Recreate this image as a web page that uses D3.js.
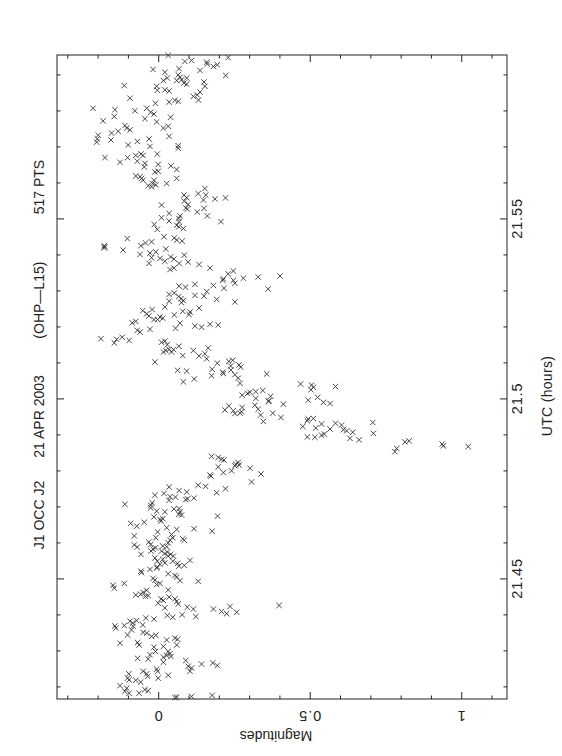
<!DOCTYPE html>
<html><head><meta charset="utf-8">
<script src="https://cdn.jsdelivr.net/npm/d3@7"></script>
<style>
html,body{margin:0;padding:0;background:#fff;}
svg text{font-family:"Liberation Sans",Arial,Helvetica,sans-serif;fill:#222;}
</style></head>
<body><svg id="c" width="562" height="756"></svg>
<script>
// ---- data ----
const titleParts = ["J1 OCC J2", "21 APR 2003", "(OHP\u2014L15)", "517 PTS"];
const titleUtcPos = [21.4676, 21.4950, 21.5273, 21.5587];
const utcTicks = [21.45, 21.5, 21.55];
const utcTickLabels = ["21.45", "21.5", "21.55"];
const magTicks = [0, 0.5, 1];
const magTickLabels = ["0", "0.5", "1"];
const utcLabel = "UTC (hours)";
const magLabel = "Magnitudes";
const utcDomain = [21.4165, 21.5954];
const magDomain = [-0.334, 1.151];
// observations: [UTC hours, magnitude]
const points = [
[21.5953,0.033],[21.5936,0.088],[21.5939,0.110],[21.5934,0.160],[21.5929,0.162],[21.5922,0.182],[21.5927,0.195],[21.5947,0.231],[21.5914,-0.017],[21.5916,0.069],
[21.5906,0.022],[21.5911,0.138],[21.5899,0.066],[21.5892,0.072],[21.5883,0.061],[21.5885,0.077],[21.5890,0.094],[21.5890,0.030],[21.5883,0.017],[21.5897,0.223],
[21.5876,0.085],[21.5873,0.094],[21.5879,0.151],[21.5867,0.154],[21.5869,-0.112],[21.5867,-0.005],[21.5856,-0.003],[21.5857,0.022],[21.5854,0.036],[21.5851,0.138],
[21.5843,0.129],[21.5839,0.116],[21.5829,0.133],[21.5834,-0.093],[21.5823,0.036],[21.5828,0.055],[21.5825,0.066],[21.5820,-0.009],[21.5806,-0.215],[21.5802,-0.143],
[21.5799,-0.077],[21.5806,-0.038],[21.5795,-0.025],[21.5790,-0.014],[21.5783,-0.145],[21.5777,-0.044],[21.5771,-0.182],[21.5768,-0.005],[21.5781,0.041],[21.5758,-0.110],
[21.5751,-0.104],[21.5746,-0.093],[21.5751,0.017],[21.5756,0.033],[21.5737,-0.154],[21.5742,-0.132],[21.5731,-0.198],[21.5721,-0.201],[21.5712,-0.203],[21.5718,-0.156],
[21.5721,-0.030],[21.5728,0.036],[21.5704,-0.099],[21.5714,-0.069],[21.5700,-0.027],[21.5702,0.066],[21.5695,0.066],[21.5669,-0.176],[21.5669,-0.101],[21.5675,-0.074],
[21.5679,-0.057],[21.5675,-0.050],[21.5679,-0.003],
[21.5656,-0.126],[21.5659,-0.069],[21.5653,-0.044],[21.5643,-0.046],[21.5650,0.000],[21.5631,0.000],[21.5629,-0.011],[21.5646,0.042],[21.5636,0.061],[21.5618,-0.074],
[21.5616,-0.060],[21.5611,-0.055],[21.5606,-0.050],[21.5606,-0.014],[21.5597,-0.018],[21.5591,-0.033],[21.5588,-0.022],[21.5593,-0.008],[21.5597,0.028],[21.5611,0.061],
[21.5565,0.085],[21.5558,0.094],[21.5548,0.086],[21.5569,0.132],[21.5583,0.154],[21.5565,0.157],[21.5551,0.149],[21.5554,0.187],[21.5557,0.222],[21.5537,0.011],
[21.5539,0.099],[21.5529,0.091],[21.5526,0.096],[21.5528,0.151],[21.5518,0.129],[21.5507,0.162],[21.5514,0.036],[21.5502,0.011],[21.5493,0.036],[21.5507,0.072],
[21.5500,0.068],[21.5491,0.069],[21.5481,0.061],[21.5477,0.068],[21.5472,0.083],[21.5483,-0.013],[21.5470,-0.003],[21.5491,0.207],[21.5444,-0.102],[21.5449,0.019],
[21.5446,0.053],[21.5440,0.061],[21.5437,0.079],[21.5424,-0.178],[21.5418,-0.178],[21.5421,-0.177],[21.5412,-0.116],[21.5432,-0.042],[21.5435,-0.022],[21.5424,-0.057],
[21.5415,0.025],[21.5400,-0.060],[21.5404,-0.027],[21.5407,-0.008],[21.5391,-0.022],[21.5389,0.006],[21.5381,0.022],[21.5393,0.041],[21.5387,0.052],[21.5398,0.086],
[21.5379,0.099],[21.5375,-0.030],[21.5375,0.069],[21.5372,0.135],
[21.5358,0.039],[21.5362,0.052],[21.5362,0.171],[21.5346,0.231],[21.5354,0.248],[21.5332,0.215],[21.5328,0.213],[21.5328,0.248],[21.5320,0.253],[21.5334,0.281],
[21.5337,0.330],[21.5340,0.402],[21.5306,0.217],[21.5304,0.363],[21.5312,0.069],[21.5309,0.090],[21.5317,0.121],[21.5314,0.182],[21.5297,0.160],[21.5284,0.151],
[21.5286,0.121],[21.5289,0.036],[21.5293,0.053],[21.5283,0.068],[21.5277,0.075],[21.5266,0.077],[21.5272,0.083],[21.5270,0.036],[21.5254,0.022],[21.5275,0.193],
[21.5268,0.253],[21.5244,-0.051],[21.5247,-0.020],[21.5235,-0.038],[21.5229,-0.031],[21.5219,-0.014],[21.5219,-0.002],[21.5226,0.006],[21.5223,0.015],[21.5232,0.053],
[21.5242,0.081],[21.5240,0.105],[21.5233,0.102],[21.5251,0.135],[21.5210,-0.086],[21.5214,-0.074],[21.5189,-0.069],[21.5184,-0.060],[21.5192,-0.027],[21.5209,0.072],
[21.5195,0.057],[21.5201,0.121],[21.5198,0.143],[21.5206,0.171],[21.5204,0.198],[21.5166,-0.189],[21.5164,-0.137],[21.5154,-0.145],[21.5170,-0.119],[21.5161,-0.096],
[21.5156,0.011],[21.5159,0.022],[21.5149,0.030],[21.5129,0.017],[21.5133,0.025],[21.5136,0.036],[21.5129,0.044],[21.5136,0.050],[21.5145,0.068],[21.5119,0.081],
[21.5133,0.116],[21.5118,0.135],[21.5124,0.154],[21.5110,0.160],[21.5140,0.165],[21.5101,-0.011],[21.5098,0.195],[21.5103,0.233],[21.5106,0.246],[21.5090,0.239],
[21.5093,0.267],[21.5087,0.272],[21.5078,0.064],[21.5076,0.094],[21.5081,0.178],[21.5073,0.213],
[21.5046,0.083],[21.5054,0.119],[21.5063,0.176],[21.5069,0.215],[21.5079,0.240],[21.5066,0.253],[21.5056,0.264],[21.5042,0.270],[21.5068,0.358],[21.5040,0.470],
[21.5037,0.506],[21.5031,0.512],[21.5024,0.504],[21.5033,0.585],[21.5009,0.277],[21.5014,0.295],[21.5017,0.303],[21.5019,0.322],[21.5022,0.345],[21.5000,0.322],
[21.5006,0.371],[21.4993,0.366],[21.4992,0.363],[21.4984,0.413],[21.4995,0.495],[21.5003,0.526],[21.4989,0.545],[21.4986,0.567],[21.4979,0.233],[21.4968,0.220],
[21.4966,0.248],[21.4975,0.277],[21.4963,0.275],[21.4959,0.270],[21.4958,0.253],[21.4981,0.319],[21.4970,0.330],[21.4954,0.338],[21.4936,0.347],[21.4959,0.378],
[21.4947,0.405],[21.4943,0.495],[21.4944,0.512],[21.4938,0.492],[21.4922,0.477],[21.4918,0.520],[21.4929,0.539],[21.4915,0.567],[21.4931,0.585],[21.4926,0.605],
[21.4913,0.611],[21.4910,0.622],[21.4906,0.642],[21.4933,0.708],[21.4903,0.710],[21.4893,0.492],[21.4892,0.517],[21.4898,0.539],[21.4901,0.548],[21.4889,0.633],
[21.4885,0.663],[21.4852,0.781],[21.4861,0.787],[21.4879,0.814],[21.4882,0.828],[21.4873,0.937],[21.4868,0.941],[21.4866,1.023],[21.4839,0.176],[21.4836,0.198],
[21.4831,0.209],[21.4829,0.217],[21.4810,0.198],[21.4817,0.256],[21.4822,0.264],[21.4815,0.267],[21.4813,0.253],[21.4799,0.242],[21.4794,0.215],[21.4787,0.171],
[21.4806,0.303],[21.4790,0.339],
[21.4784,0.174],[21.4768,0.308],[21.4754,0.036],[21.4744,0.069],[21.4740,0.094],[21.4759,0.132],[21.4756,0.156],[21.4738,0.193],[21.4749,0.222],[21.4731,-0.011],
[21.4736,0.019],[21.4727,0.039],[21.4717,0.036],[21.4726,0.057],[21.4719,0.091],[21.4721,0.097],[21.4723,0.118],[21.4706,-0.110],[21.4710,-0.020],[21.4703,-0.024],
[21.4696,-0.025],[21.4687,-0.005],[21.4685,0.022],[21.4693,0.052],[21.4694,0.069],[21.4685,0.072],[21.4678,0.068],[21.4676,0.077],[21.4671,-0.014],[21.4664,0.006],
[21.4666,0.015],[21.4659,0.009],[21.4673,0.196],[21.4653,-0.091],[21.4645,-0.071],[21.4656,-0.046],[21.4641,0.028],[21.4636,0.061],[21.4629,-0.002],[21.4622,0.044],
[21.4638,0.118],[21.4631,0.178],[21.4618,-0.079],[21.4613,-0.008],[21.4613,0.048],[21.4610,0.081],[21.4606,0.086],[21.4593,-0.079],[21.4587,-0.069],[21.4601,-0.031],
[21.4594,-0.025],[21.4599,0.033],[21.4606,0.039],[21.4588,0.028],[21.4590,0.015],[21.4567,-0.057],[21.4581,-0.017],[21.4585,-0.009],[21.4576,-0.024],[21.4576,0.011],
[21.4569,0.022],[21.4573,0.030],[21.4562,0.050],[21.4562,0.033],[21.4567,0.041],[21.4557,-0.011],[21.4548,-0.003],[21.4539,0.006],[21.4553,0.015],[21.4543,0.022],
[21.4548,0.048],[21.4542,0.064],[21.4536,0.086],[21.4550,0.105],[21.4534,0.068],[21.4532,-0.003],[21.4529,-0.005],[21.4525,-0.027],[21.4520,-0.057],[21.4516,-0.055],
[21.4500,-0.017],[21.4495,-0.011],[21.4513,0.033],[21.4508,0.055],[21.4504,0.061],[21.4494,0.072],[21.4492,0.132],[21.4481,-0.149],[21.4486,-0.112],[21.4483,-0.005],
[21.4486,0.006],
[21.4473,-0.145],[21.4454,-0.074],[21.4456,-0.058],[21.4461,-0.050],[21.4467,-0.038],[21.4452,-0.033],[21.4450,-0.042],[21.4468,0.033],[21.4443,0.009],[21.4439,0.017],
[21.4431,0.000],[21.4418,0.022],[21.4448,0.036],[21.4443,0.055],[21.4429,0.066],[21.4436,0.061],[21.4420,0.096],[21.4415,0.116],[21.4394,0.124],[21.4399,0.079],
[21.4392,0.048],[21.4397,0.030],[21.4415,0.182],[21.4408,0.209],[21.4402,0.226],[21.4422,0.237],[21.4406,0.259],[21.4425,0.399],[21.4368,-0.143],[21.4362,-0.140],
[21.4369,-0.112],[21.4381,-0.093],[21.4376,-0.084],[21.4367,-0.083],[21.4383,-0.071],[21.4357,-0.088],[21.4343,-0.101],[21.4371,-0.051],[21.4390,-0.041],[21.4387,-0.014],
[21.4350,-0.050],[21.4348,-0.038],[21.4339,-0.022],[21.4342,-0.008],[21.4320,-0.126],[21.4322,-0.068],[21.4315,-0.063],[21.4329,0.028],[21.4334,0.055],[21.4331,0.064],
[21.4315,0.061],[21.4311,0.017],[21.4309,-0.014],[21.4297,-0.009],[21.4297,0.033],[21.4291,0.039],[21.4286,0.028],[21.4281,0.017],[21.4283,0.042],[21.4288,-0.027],
[21.4276,-0.033],[21.4278,-0.068],[21.4267,0.017],[21.4272,0.091],[21.4256,0.099],[21.4251,0.110],[21.4242,0.105],[21.4262,0.143],[21.4265,0.180],[21.4258,0.195],
[21.4248,-0.005],[21.4242,-0.002],[21.4223,0.000],[21.4231,0.033],[21.4242,-0.050],[21.4235,-0.038],[21.4228,-0.035],[21.4235,-0.097],[21.4223,-0.101],[21.4218,-0.096],
[21.4217,-0.074],[21.4212,-0.058],[21.4202,-0.126],[21.4195,-0.104],[21.4186,-0.110],[21.4181,-0.096],[21.4181,-0.063],[21.4191,-0.044],[21.4188,-0.033],[21.4169,0.055],
[21.4170,0.061],[21.4172,0.110],[21.4175,0.178]
];

// ---- layout ----
const L = 57, R = 507, T = 55, B = 699;
const ink = "#222";
const svg = d3.select("#c");
const x = d3.scaleLinear().domain(magDomain).range([L, R]);
const y = d3.scaleLinear().domain(utcDomain).range([B, T]);

const utcMinor = d3.range(21.42, 21.5951, 0.01).map(v => +v.toFixed(2)).filter(v => !utcTicks.some(t => Math.abs(t - v) < 1e-6));
const magMinor = d3.range(-0.3, 1.1501, 0.1).map(v => +v.toFixed(1)).filter(v => !magTicks.some(t => Math.abs(t - v) < 1e-6));

function styleAxis(g) {
  g.select(".domain").remove();
  g.selectAll(".tick line").attr("stroke", ink).attr("stroke-width", 1);
  g.selectAll(".tick text").remove();
}
function addAxis(axisFn, scale, vals, len, tx, ty) {
  svg.append("g").attr("transform", `translate(${tx},${ty})`)
    .call(axisFn(scale).tickValues(vals).tickSize(len).tickFormat(""))
    .call(styleAxis);
}
addAxis(d3.axisRight, y, utcMinor, -3.5, R, 0);
addAxis(d3.axisRight, y, utcTicks, -7, R, 0);
addAxis(d3.axisLeft, y, utcMinor, -3.5, L, 0);
addAxis(d3.axisLeft, y, utcTicks, -7, L, 0);
addAxis(d3.axisBottom, x, magMinor, -3.5, 0, B);
addAxis(d3.axisBottom, x, magTicks, -7, 0, B);
addAxis(d3.axisTop, x, magMinor, -3.5, 0, T);
addAxis(d3.axisTop, x, magTicks, -7, 0, T);

svg.append("rect").attr("x", L).attr("y", T).attr("width", R - L).attr("height", B - T)
  .attr("fill", "none").attr("stroke", ink).attr("stroke-width", 1);

const s = 2.7;
svg.append("g").selectAll("path").data(points).join("path")
  .attr("d", d => {
    const px = x(d[1]), py = y(d[0]);
    return `M${px - s},${py - s}L${px + s},${py + s}M${px - s},${py + s}L${px + s},${py - s}`;
  })
  .attr("stroke", "#333").attr("stroke-width", 0.9).attr("fill", "none");

function txt(sel, size, spacing) {
  return sel.attr("text-anchor", "middle").attr("font-size", size).attr("letter-spacing", spacing);
}

svg.append("g").selectAll("text").data(utcTicks).join("text")
  .attr("transform", d => `translate(522,${y(d)}) rotate(-90)`)
  .call(txt, 14.5, "0.9px").text((d, i) => utcTickLabels[i]);
svg.append("text").attr("transform", `translate(552,396) rotate(-90)`)
  .call(txt, 14, "0.3px").text(utcLabel);

svg.append("g").selectAll("text").data(magTicks).join("text")
  .attr("transform", d => `translate(${x(d)},711) rotate(180)`)
  .call(txt, 14.5, "0.9px").text((d, i) => magTickLabels[i]);
svg.append("text").attr("transform", `translate(276,731) rotate(180)`)
  .call(txt, 14, "0px").text(magLabel);

svg.append("g").selectAll("text").data(titleParts).join("text")
  .attr("transform", (d, i) => `translate(44,${y(titleUtcPos[i])}) rotate(-90)`)
  .call(txt, 14, "0px").text(d => d);
</script></body></html>
